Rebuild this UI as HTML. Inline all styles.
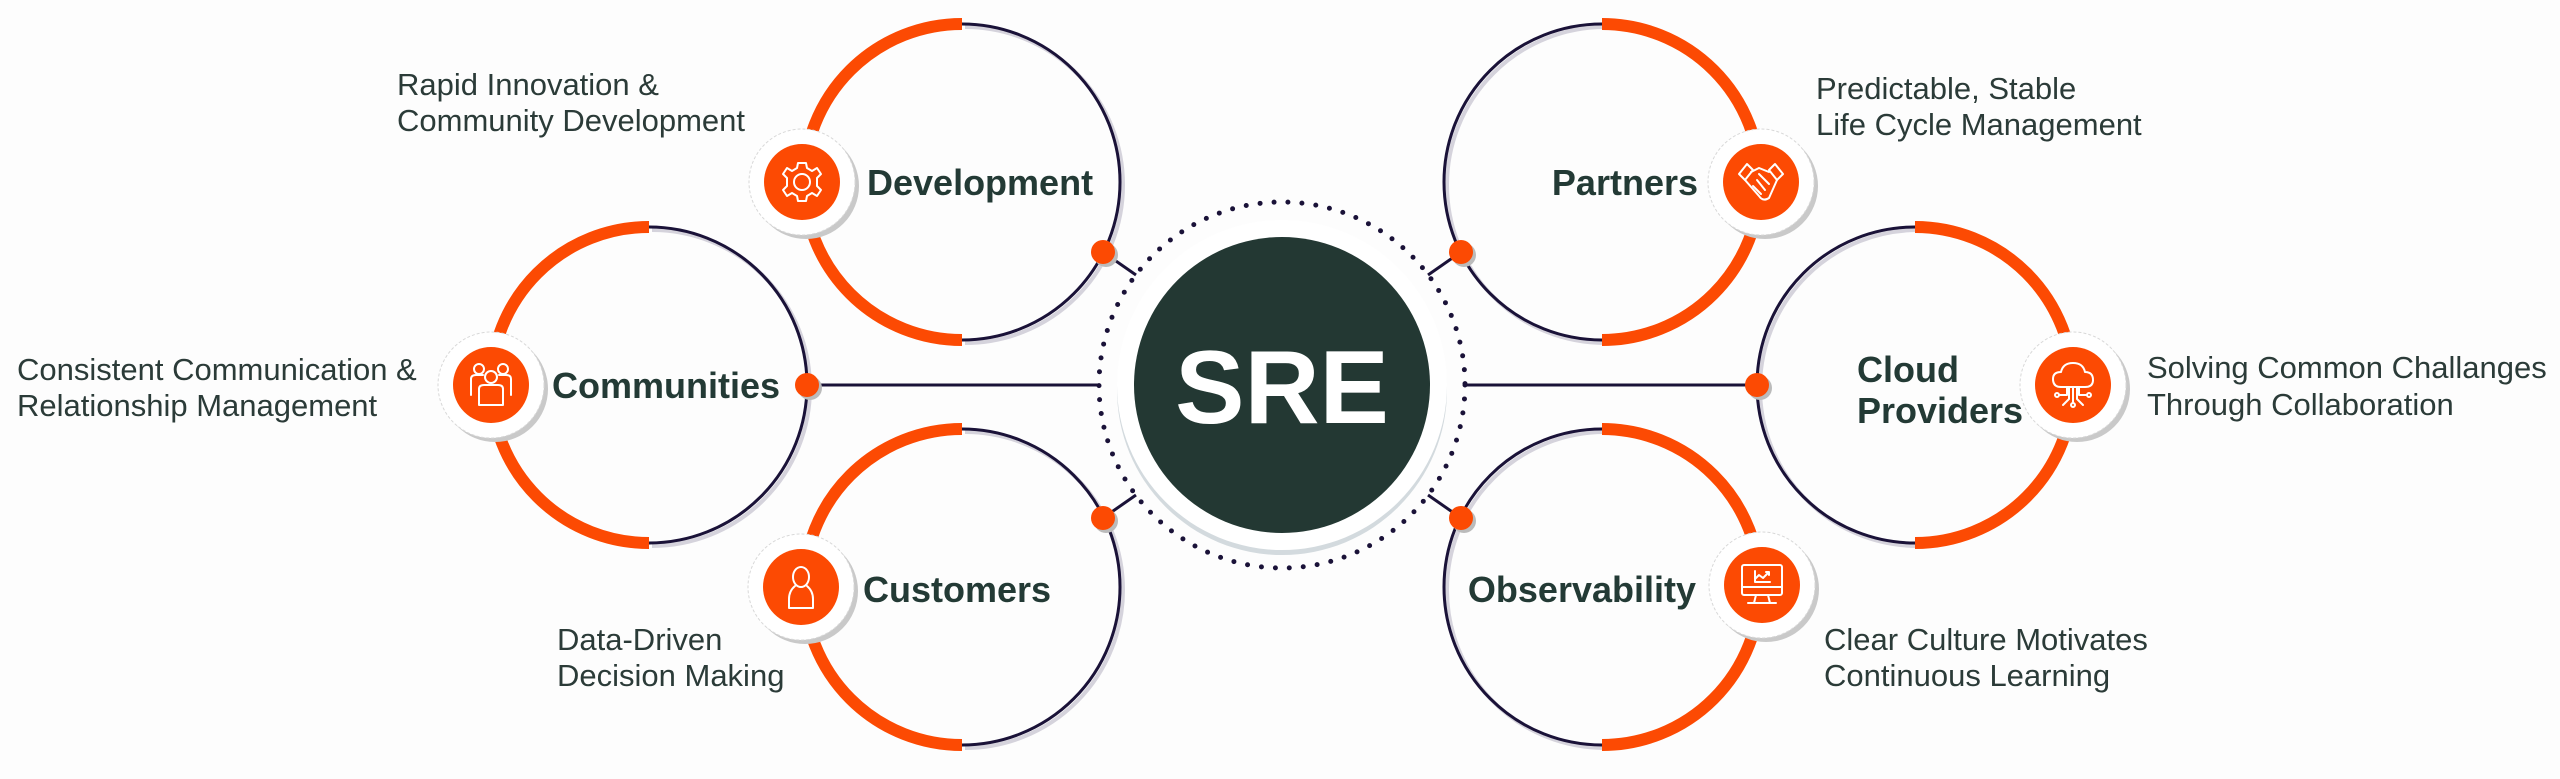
<!DOCTYPE html>
<html><head><meta charset="utf-8"><style>
html,body{margin:0;padding:0;background:#fdfdfd;}
svg{display:block;}
.lbl{font-family:"Liberation Sans",sans-serif;font-weight:bold;font-size:36px;fill:#233a35;}
.txt{font-family:"Liberation Sans",sans-serif;font-size:31px;fill:#2b3b38;}
</style></head><body>
<svg width="2560" height="779" viewBox="0 0 2560 779" xmlns="http://www.w3.org/2000/svg">
<rect width="2560" height="779" fill="#fdfdfd"/>
<defs>
<g id="badge">
  <circle cx="4" cy="4" r="53" fill="#c9c9c9"/>
  <circle cx="0" cy="0" r="53" fill="#fff" stroke="#d8d8d8" stroke-width="1" stroke-dasharray="3 2"/>
  <circle cx="0" cy="0" r="38" fill="#fc4a03"/>
</g>
<g id="dot">
  <circle cx="3" cy="3" r="12" fill="#bbb"/>
  <circle cx="0" cy="0" r="12" fill="#fc4a03"/>
</g>
</defs>

<g stroke="#1a1238" stroke-width="3" fill="none">
  <line x1="807" y1="385" x2="1099" y2="385"/>
  <line x1="1757" y1="385" x2="1465" y2="385"/>
  <line x1="1103" y1="252" x2="1136" y2="275"/>
  <line x1="1103" y1="518" x2="1136" y2="495"/>
  <line x1="1461" y1="252" x2="1428" y2="275"/>
  <line x1="1461" y1="518" x2="1428" y2="495"/>
</g>

<g fill="none">
  <path d="M962,24 A158,158 0 0 1 962,340" stroke="#d5d3dc" stroke-width="4" transform="translate(3,3)"/>
  <path d="M962,24 A158,158 0 0 1 962,340" stroke="#1a1238" stroke-width="3"/>
  <path d="M962,24 A158,158 0 0 0 962,340" stroke="#fc4a03" stroke-width="12"/>
  <path d="M649,227 A158,158 0 0 1 649,543" stroke="#d5d3dc" stroke-width="4" transform="translate(3,3)"/>
  <path d="M649,227 A158,158 0 0 1 649,543" stroke="#1a1238" stroke-width="3"/>
  <path d="M649,227 A158,158 0 0 0 649,543" stroke="#fc4a03" stroke-width="12"/>
  <path d="M962,429 A158,158 0 0 1 962,745" stroke="#d5d3dc" stroke-width="4" transform="translate(3,3)"/>
  <path d="M962,429 A158,158 0 0 1 962,745" stroke="#1a1238" stroke-width="3"/>
  <path d="M962,429 A158,158 0 0 0 962,745" stroke="#fc4a03" stroke-width="12"/>
  <path d="M1602,24 A158,158 0 0 0 1602,340" stroke="#d5d3dc" stroke-width="4" transform="translate(3,3)"/>
  <path d="M1602,24 A158,158 0 0 0 1602,340" stroke="#1a1238" stroke-width="3"/>
  <path d="M1602,24 A158,158 0 0 1 1602,340" stroke="#fc4a03" stroke-width="12"/>
  <path d="M1915,227 A158,158 0 0 0 1915,543" stroke="#d5d3dc" stroke-width="4" transform="translate(3,3)"/>
  <path d="M1915,227 A158,158 0 0 0 1915,543" stroke="#1a1238" stroke-width="3"/>
  <path d="M1915,227 A158,158 0 0 1 1915,543" stroke="#fc4a03" stroke-width="12"/>
  <path d="M1602,429 A158,158 0 0 0 1602,745" stroke="#d5d3dc" stroke-width="4" transform="translate(3,3)"/>
  <path d="M1602,429 A158,158 0 0 0 1602,745" stroke="#1a1238" stroke-width="3"/>
  <path d="M1602,429 A158,158 0 0 1 1602,745" stroke="#fc4a03" stroke-width="12"/>
</g>

<circle cx="1282" cy="385" r="183" fill="none" stroke="#1a1238" stroke-width="5" stroke-linecap="round" stroke-dasharray="0 14"/>
<circle cx="1282" cy="390" r="165" fill="#d3dade"/>
<circle cx="1282" cy="385" r="165" fill="#fff"/>
<circle cx="1282" cy="385" r="148" fill="#233833"/>
<text x="1282" y="423" text-anchor="middle" font-family="Liberation Sans, sans-serif" font-weight="bold" font-size="104" fill="#fff">SRE</text>

<use href="#dot" x="1103" y="252"/>
<use href="#dot" x="807" y="385"/>
<use href="#dot" x="1103" y="518"/>
<use href="#dot" x="1461" y="252"/>
<use href="#dot" x="1757" y="385"/>
<use href="#dot" x="1461" y="518"/>

<use href="#badge" x="802" y="182"/>
<use href="#badge" x="491" y="385"/>
<use href="#badge" x="801" y="587"/>
<use href="#badge" x="1761" y="182"/>
<use href="#badge" x="2073" y="385"/>
<use href="#badge" x="1762" y="585"/>

<g fill="none" stroke="#fff" stroke-width="2" stroke-linejoin="round" stroke-linecap="round">
  <g transform="translate(802,182)">
    <circle r="8"/>
    <path d="M-4,-19 L4,-19 L5,-14 L10,-11 L15,-14 L19,-8 L15,-4 L15,4 L19,8 L15,14 L10,11 L5,14 L4,19 L-4,19 L-5,14 L-10,11 L-15,14 L-19,8 L-15,4 L-15,-4 L-19,-8 L-15,-14 L-10,-11 L-5,-14 Z"/>
  </g>
  <g transform="translate(491,385)">
    <circle cx="-12" cy="-16" r="5"/><circle cx="12" cy="-16" r="5"/><circle cx="0" cy="-8" r="6"/>
    <path d="M-20,10 L-20,-6 Q-20,-10 -15,-10 L-8,-10"/>
    <path d="M20,10 L20,-6 Q20,-10 15,-10 L8,-10"/>
    <path d="M-12,20 L-12,4 Q-12,0 -7,0 L7,0 Q12,0 12,4 L12,20 Z"/>
  </g>
  <g transform="translate(801,587)">
    <ellipse cx="0" cy="-10" rx="8" ry="10"/>
    <path d="M-6,-1 Q-12,4 -12,12 L-12,21 L12,21 L12,12 Q12,4 6,-1"/>
  </g>
  <g transform="translate(1761,182)">
    <path d="M-22,-8 L-14,-18 L-8,-12 L-16,-2 Z"/>
    <path d="M22,-8 L14,-18 L8,-12 L16,-2 Z"/>
    <path d="M-10,-10 L-2,-14 L8,-10"/>
    <path d="M-16,-2 L-2,14 Q2,20 8,16 L16,-2"/>
    <path d="M-8,4 L0,12 M-4,-2 L4,8 M-2,-8 L8,2"/>
  </g>
  <g transform="translate(2073,385)">
    <path d="M-12,2 Q-20,2 -20,-6 Q-20,-13 -12,-13 Q-10,-22 0,-22 Q10,-22 12,-13 Q20,-13 20,-5 Q20,2 12,2 Z"/>
    <path d="M0,2 L0,18 M-6,2 L-6,10 L-14,10 M6,2 L6,10 L14,10 M-4,2 L-4,14 L-10,20 M4,2 L4,14 L10,20"/>
    <circle cx="-16" cy="10" r="2"/><circle cx="16" cy="10" r="2"/><circle cx="0" cy="20" r="2"/>
  </g>
  <g transform="translate(1762,585)">
    <rect x="-20" y="-20" width="40" height="30" rx="2"/>
    <path d="M-20,2 L20,2 M-6,10 L-8,18 L8,18 L6,10 M-14,18 L14,18"/>
    <path d="M-7,-14 L-7,-3 L8,-3 M-7,-6 L-3,-10 L1,-7 L7,-13 M4,-13 L7,-13 L7,-10"/>
  </g>
</g>

<text class="lbl" x="867" y="195">Development</text>
<text class="lbl" x="552" y="398">Communities</text>
<text class="lbl" x="863" y="602">Customers</text>
<text class="lbl" x="1698" y="195" text-anchor="end">Partners</text>
<text class="lbl" x="1857" y="382">Cloud</text>
<text class="lbl" x="1857" y="423">Providers</text>
<text class="lbl" x="1696" y="602" text-anchor="end">Observability</text>

<text class="txt" x="397" y="95">Rapid Innovation &amp;</text>
<text class="txt" x="397" y="131">Community Development</text>
<text class="txt" x="17" y="380">Consistent Communication &amp;</text>
<text class="txt" x="17" y="416">Relationship Management</text>
<text class="txt" x="557" y="650">Data-Driven</text>
<text class="txt" x="557" y="686">Decision Making</text>
<text class="txt" x="1816" y="99">Predictable, Stable</text>
<text class="txt" x="1816" y="135">Life Cycle Management</text>
<text class="txt" x="2147" y="378">Solving Common Challanges</text>
<text class="txt" x="2147" y="415">Through Collaboration</text>
<text class="txt" x="1824" y="650">Clear Culture Motivates</text>
<text class="txt" x="1824" y="686">Continuous Learning</text>
</svg>
</body></html>
